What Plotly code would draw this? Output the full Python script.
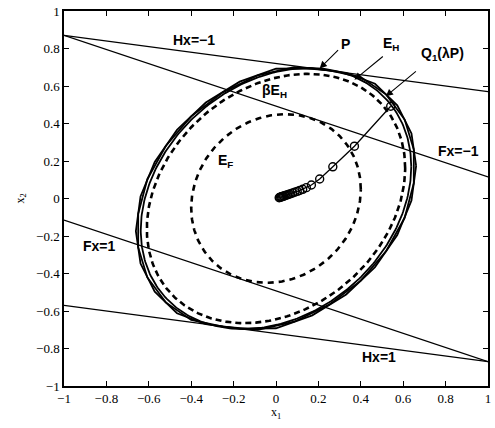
import numpy as np
import plotly.graph_objects as go

# ---------------- data ----------------
# constraint lines (endpoints at x = -1 and x = 1)
line_x = [-1.0, 1.0]
hx_neg1_y = [0.87, 0.57]
fx_neg1_y = [0.87, 0.115]
hx_pos1_y = [-0.57, -0.87]
fx_pos1_y = [-0.115, -0.87]

# ellipse shape matrices: point = M @ [cos t, sin t]
M_EH = [[0.638, 0.0], [0.17, 0.675]]
BETA = 0.955
M_EF = [[0.40, 0.0], [0.05, 0.447]]

# polytope P vertices
P_x = [0.661, 0.639, 0.572, 0.467, 0.331, 0.171, 0.0, -0.171, -0.331, -0.467, -0.572, -0.639,
       -0.661, -0.639, -0.572, -0.467, -0.331, -0.171, 0.0, 0.171, 0.331, 0.467, 0.572, 0.639,
       0.661]
P_y = [0.174, 0.347, 0.497, 0.612, 0.670, 0.694, 0.692, 0.623, 0.512, 0.366, 0.195, 0.011,
       -0.174, -0.347, -0.497, -0.612, -0.670, -0.694, -0.692, -0.623, -0.512, -0.366, -0.195,
       -0.011, 0.174]

# Q1(lambda P) vertices
Q_x = [0.650, 0.607, 0.520, 0.400, 0.251, 0.086, -0.086, -0.251, -0.400, -0.520, -0.607, -0.650,
       -0.650, -0.607, -0.520, -0.400, -0.251, -0.086, 0.086, 0.251, 0.400, 0.520, 0.607, 0.650,
       0.650]
Q_y = [0.261, 0.421, 0.554, 0.648, 0.683, 0.700, 0.657, 0.566, 0.438, 0.280, 0.103, -0.082,
       -0.261, -0.421, -0.554, -0.648, -0.683, -0.700, -0.657, -0.566, -0.438, -0.280, -0.103,
       0.082, 0.261]

# closed-loop trajectory
traj_x = [0.541, 0.370, 0.268, 0.206, 0.167, 0.143, 0.126, 0.112, 0.100, 0.089,
          0.079, 0.070, 0.062, 0.055, 0.048, 0.042, 0.036, 0.031, 0.026, 0.022,
          0.018, 0.015]
traj_y = [0.492, 0.279, 0.169, 0.104, 0.072, 0.058, 0.049, 0.043, 0.038, 0.034,
          0.030, 0.026, 0.023, 0.020, 0.018, 0.015, 0.013, 0.011, 0.009, 0.008,
          0.006, 0.004]

tick_vals = [-1, -0.8, -0.6, -0.4, -0.2, 0, 0.2, 0.4, 0.6, 0.8, 1]
tick_text = ["\u22121", "\u22120.8", "\u22120.6", "\u22120.4", "\u22120.2", "0",
             "0.2", "0.4", "0.6", "0.8", "1"]

# ---------------- figure ----------------
t = np.linspace(0, 2 * np.pi, 361)


def ellipse(M, s=1.0):
    M = np.asarray(M)
    pts = M @ np.vstack([np.cos(t), np.sin(t)])
    return s * pts[0], s * pts[1]


fig = go.Figure()
blk = "black"

for ys in (hx_neg1_y, fx_neg1_y, hx_pos1_y, fx_pos1_y):
    fig.add_trace(go.Scatter(x=line_x, y=ys, mode="lines",
                             line=dict(color=blk, width=1.3)))

ex, ey = ellipse(M_EF)
fig.add_trace(go.Scatter(x=ex, y=ey, mode="lines",
                         line=dict(color=blk, width=2.6, dash="6px,5px")))
ex, ey = ellipse(M_EH, BETA)
fig.add_trace(go.Scatter(x=ex, y=ey, mode="lines",
                         line=dict(color=blk, width=2.6, dash="6px,4px")))
ex, ey = ellipse(M_EH)
fig.add_trace(go.Scatter(x=ex, y=ey, mode="lines",
                         line=dict(color=blk, width=1.8)))
fig.add_trace(go.Scatter(x=P_x, y=P_y, mode="lines",
                         line=dict(color=blk, width=1.8)))
fig.add_trace(go.Scatter(x=Q_x, y=Q_y, mode="lines",
                         line=dict(color=blk, width=1.8)))
fig.add_trace(go.Scatter(x=traj_x, y=traj_y, mode="lines+markers",
                         line=dict(color=blk, width=1.3),
                         marker=dict(symbol="circle-open", size=8, color=blk,
                                     line=dict(width=1.4, color=blk))))

lab_font = dict(family="Liberation Sans, Arial", size=14, color=blk)
labels = [
    ("<b>Hx=\u22121</b>", -0.388, 0.848),
    ("<b>P</b>", 0.330, 0.825),
    ("<b>E<sub>H</sub></b>", 0.541, 0.825),
    ("<b>Q<sub>1</sub>(\u03bbP)</b>", 0.784, 0.770),
    ("<b>\u03b2E<sub>H</sub></b>", -0.005, 0.571),
    ("<b>E<sub>F</sub></b>", -0.24, 0.200),
    ("<b>Fx=\u22121</b>", 0.862, 0.256),
    ("<b>Fx=1</b>", -0.833, -0.251),
    ("<b>Hx=1</b>", 0.487, -0.846),
]
for txt, x, y in labels:
    fig.add_annotation(x=x, y=y, text=txt, showarrow=False, font=lab_font)

arrows = [
    (0.300, 0.799, 0.206, 0.694),
    (0.511, 0.764, 0.370, 0.633),
    (0.667, 0.685, 0.518, 0.545),
]
for ax, ay, x, y in arrows:
    fig.add_annotation(x=x, y=y, ax=ax, ay=ay, xref="x", yref="y",
                       axref="x", ayref="y", text="", showarrow=True,
                       arrowhead=2, arrowsize=1.3, arrowwidth=1.1,
                       arrowcolor=blk, standoff=0, startstandoff=0)

tick_font = dict(family="Liberation Serif, Times New Roman", size=13, color=blk)
fig.add_annotation(x=0, y=-1, xref="x", yref="y", text="x<sub>1</sub>",
                   showarrow=False, yshift=-27, font=dict(tick_font, size=12))
fig.add_annotation(x=-1, y=0, xref="x", yref="y", text="x<sub>2</sub>",
                   showarrow=False, xshift=-44, textangle=-90,
                   font=dict(tick_font, size=12))

axis_common = dict(range=[-1, 1], tickvals=tick_vals, ticktext=tick_text,
                   ticks="inside", ticklen=5, tickwidth=1, tickcolor=blk,
                   showline=True, linecolor=blk, linewidth=1.5, mirror="ticks",
                   showgrid=False, zeroline=False, tickfont=tick_font,
                   ticklabeloverflow="allow")
fig.update_xaxes(**axis_common)
fig.update_yaxes(**axis_common)

fig.update_layout(width=495, height=428,
                  margin=dict(l=64, r=4, t=5, b=42),
                  paper_bgcolor="white", plot_bgcolor="white",
                  showlegend=False, hovermode=False)

fig.write_html("out.html", config={"displayModeBar": False},
               post_script="document.body.style.margin='0';document.body.style.overflow='hidden';")
